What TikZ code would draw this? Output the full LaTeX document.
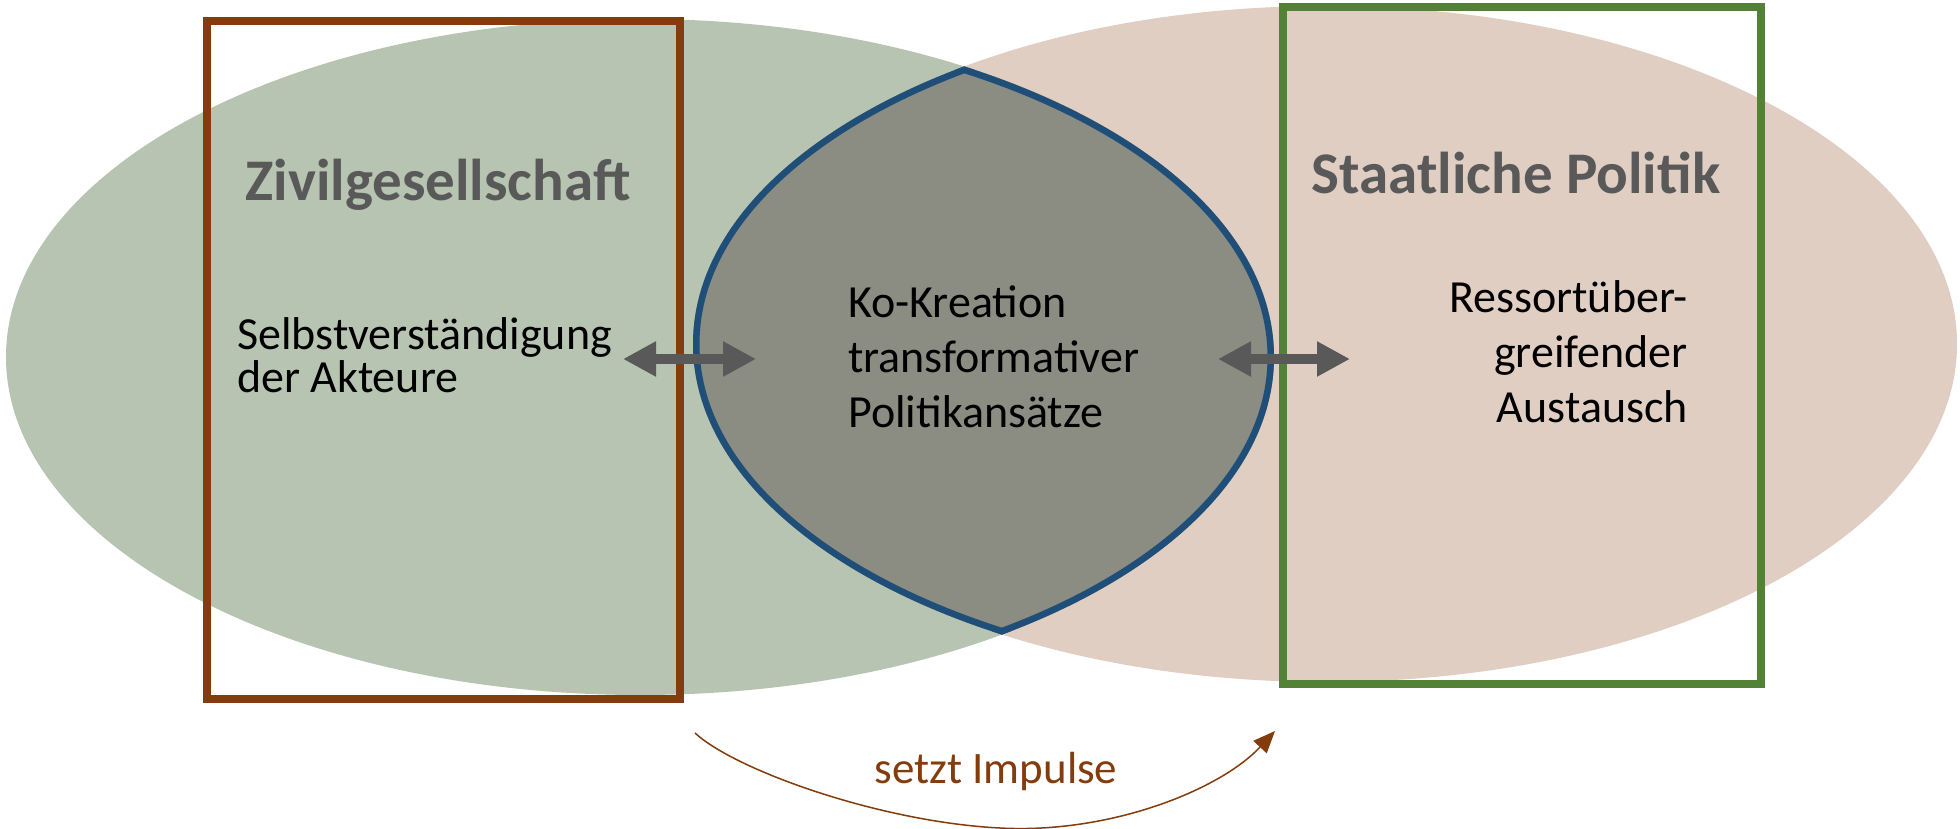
\documentclass[tikz,border=0pt]{standalone}
\usepackage{fontspec}
\setmainfont{Carlito}
\usetikzlibrary{arrows.meta}
\definecolor{ellgreen}{HTML}{B7C4B1}
\definecolor{ellpink}{HTML}{E0CEC3}
\definecolor{lensgray}{HTML}{8B8C82}
\definecolor{lensblue}{HTML}{1F4E79}
\definecolor{rectbrown}{HTML}{843C0C}
\definecolor{rectgreen}{HTML}{538135}
\definecolor{titlegray}{HTML}{595959}
\definecolor{arrowgray}{HTML}{595959}
\begin{document}
\begin{tikzpicture}[x=1pt,y=-1pt,
  greenell/.style={x radius=634pt, y radius=338pt},
  pinkell/.style={x radius=632pt, y radius=338pt},
  title/.style={font=\fontsize{59pt}{62pt}\selectfont\bfseries, text=titlegray, inner sep=0pt},
  body/.style={font=\fontsize{46pt}{55pt}\selectfont, text=black, inner sep=0pt},
  frame/.style={line width=8pt, inner sep=0pt, fill=none},
  exchange/.style={draw=arrowgray, line width=10pt, {Triangle[length=33pt,width=33pt]}-{Triangle[length=33pt,width=33pt]}},
  impulse/.style={draw=rectbrown, line width=1.5pt, -{Triangle[length=22pt,width=18pt]}}]
\useasboundingbox (0,0) rectangle (1960,829);
\fill[white] (0,0) rectangle (1960,829);
% ellipses
\fill[ellpink] (1325,344) ellipse [pinkell];
\fill[ellgreen] (640,357) ellipse [greenell];
% lens (intersection)
\begin{scope}
  \clip (640,357) ellipse [greenell];
  \clip (1325,344) ellipse [pinkell];
  \fill[lensgray] (0,0) rectangle (1960,829);
  \draw[lensblue, line width=13pt] (640,357) ellipse [greenell];
  \draw[lensblue, line width=13pt] (1325,344) ellipse [pinkell];
\end{scope}
% frames
\node[frame, draw=rectbrown, minimum width=473pt, minimum height=678pt] (civil) at (443.5,360) {};
\node[frame, draw=rectgreen, minimum width=478pt, minimum height=677pt] (state) at (1522,345.5) {};
% exchange arrows
\coordinate (la1) at (623,359);
\coordinate (la2) at (756,359);
\coordinate (ra1) at (1218,359);
\coordinate (ra2) at (1350,359);
\draw[exchange] (la1) -- (la2);
\draw[exchange] (ra1) -- (ra2);
% texts
\node[title, anchor=base] (zgTitle) at (438,201) {Zivilgesellschaft};
\node[title, anchor=base] (spTitle) at (1516,194) {Staatliche Politik};
\node[body, font=\fontsize{46pt}{43pt}\selectfont, align=left, anchor=base west] (zgText) at (237,392) {Selbstverständigung\\der Akteure};
\node[body, align=left, anchor=base west] (koText) at (848,427) {Ko-Kreation\\transformativer\\Politikansätze};
\node[body, align=right, anchor=base east] (spText) at (1688,422) {Ressortüber-\\greifender\\Austausch};
\node[font=\fontsize{45pt}{50pt}\selectfont, text=rectbrown, anchor=base, inner sep=0pt] (impulseText) at (996,783) {setzt Impulse};
% impulse curve
\coordinate (cs) at (695,733);
\coordinate (cm) at (1000,828);
\coordinate (ce) at (1275,731);
\draw[impulse] (cs) .. controls (735,770) and (880,822) .. (cm) .. controls (1110,834) and (1220,790) .. (ce);
\end{tikzpicture}
\end{document}
